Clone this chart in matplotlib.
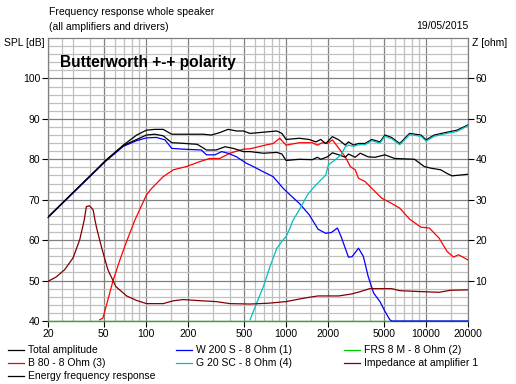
import matplotlib
matplotlib.use("Agg")
import matplotlib.pyplot as plt
from matplotlib.lines import Line2D
from matplotlib.ticker import NullFormatter

plt.rcParams['font.family'] = ['Liberation Sans', 'DejaVu Sans']

# ---------------- data ----------------
total_f = [20, 40, 52, 69, 86, 101, 116, 133, 153, 175, 256, 294, 337, 387, 445, 497, 555, 691, 862,
           937, 1004, 1248, 1467, 1637, 1775, 1927, 2150, 2391, 2659, 2799, 3046, 3303, 3676, 4107,
           4700, 5100, 5686, 6510, 7650, 9234, 10040, 11480, 14170, 16680, 20000]
total_db = [65.7, 75.9, 79.8, 83.5, 86.0, 87.2, 87.4, 87.4, 86.2, 86.2, 86.2, 86.0, 86.6, 87.4, 87.0,
            87.0, 86.4, 86.7, 87.0, 86.4, 84.9, 85.2, 84.9, 84.3, 84.9, 83.9, 85.6, 84.8, 83.5, 84.3,
            83.5, 83.9, 83.9, 84.9, 84.3, 86.0, 85.4, 83.9, 86.4, 86.0, 84.8, 86.0, 86.7, 87.2, 88.5]

energy_f = [20, 40, 52, 69, 86, 101, 116, 133, 153, 175, 233, 271, 318, 368, 421, 497, 555, 691, 862,
            937, 1004, 1248, 1544, 1680, 1775, 1981, 2150, 2391, 2659, 2799, 3130, 3395, 3874, 4340,
            5100, 5980, 8300, 9740, 10860, 12770, 14170, 15380, 20000]
energy_db = [65.7, 75.9, 79.8, 83.4, 84.9, 86.0, 86.2, 85.8, 84.1, 84.0, 83.7, 82.3, 82.3, 83.1, 82.7,
             81.9, 81.9, 81.5, 81.7, 81.3, 79.7, 80.0, 79.9, 80.5, 80.0, 80.6, 81.6, 81.1, 80.5, 81.3,
             80.5, 81.5, 80.6, 80.5, 81.1, 80.2, 80.0, 78.2, 77.8, 77.4, 76.5, 75.9, 76.3]

w200_f = [20, 40, 52, 69, 86, 101, 119, 137, 153, 185, 249, 271, 311, 348, 387, 445, 523, 555, 632, 691,
          812, 958, 1071, 1248, 1467, 1698, 1927, 2118, 2335, 2479, 2799, 2969, 3303, 3576, 3874, 4237,
          4700, 5100, 5530, 5700, 20000]
w200_db = [65.6, 75.8, 79.6, 83.2, 84.6, 85.3, 85.4, 84.8, 82.7, 82.5, 82.3, 81.1, 81.1, 81.9, 81.5,
           80.6, 79.0, 78.6, 77.6, 76.9, 75.7, 72.8, 71.2, 69.1, 66.3, 62.7, 61.7, 61.9, 63.0, 60.9, 55.8,
           55.9, 58.0, 56.0, 51.0, 46.9, 44.8, 42.4, 40.3, 40.0, 40.0]

frs8_f = [20, 20000]
frs8_db = [40.0, 40.0]

b80_f = [46.8, 49.3, 52.4, 58.1, 65.2, 72.9, 83.6, 101, 110, 133, 157, 195, 242, 285, 337, 398, 497,
         555, 712, 812, 903, 1004, 1248, 1544, 1680, 1823, 1981, 2150, 2391, 2659, 2885, 3130, 3303,
         3676, 4340, 4826, 5686, 6510, 7650, 9234, 10580, 12430, 14170, 15770, 17120, 20000]
b80_db = [40.3, 40.7, 44.0, 49.8, 55.1, 59.7, 65.0, 71.2, 72.8, 75.7, 77.4, 78.2, 79.4, 80.2, 80.2,
          81.5, 82.5, 82.6, 83.5, 83.9, 85.2, 83.5, 84.1, 84.1, 83.5, 84.1, 83.9, 84.8, 82.7, 80.6,
          78.2, 77.4, 75.3, 74.5, 72.0, 70.4, 69.1, 67.9, 65.2, 63.2, 63.0, 60.5, 57.2, 55.8, 56.4, 55.1]

g20_f = [555, 618, 691, 771, 862, 958, 1004, 1071, 1128, 1248, 1427, 1592, 1927, 2011, 2236, 2479,
         2659, 2799, 3046, 3303, 3676, 4107, 4700, 5100, 5686, 6510, 7650, 9234, 10040, 11480, 14170,
         16680, 20000]
g20_db = [40.3, 44.4, 48.5, 53.5, 58.0, 60.1, 60.9, 63.0, 65.0, 67.5, 71.2, 73.2, 76.1, 78.6, 79.8,
          81.1, 83.1, 83.5, 83.2, 83.6, 83.6, 84.6, 84.0, 85.7, 85.1, 83.6, 86.1, 85.7, 84.5, 85.7,
          86.4, 86.9, 88.3]

imp_f = [20, 22.9, 26.3, 30.2, 33.7, 36.3, 37.6, 39.6, 42, 43.3, 44.5, 48.1, 53.5, 61.1, 72.9, 85.6,
         101, 133, 157, 185, 249, 318, 398, 555, 750, 1004, 1371, 1698, 2391, 2961, 3427, 3965, 4826,
         5714, 6510, 8830, 12430, 14960, 20000]
imp_ohm = [9.8, 10.9, 12.7, 15.6, 20.1, 25.0, 28.3, 28.5, 27.5, 25.0, 23.0, 18.4, 12.7, 8.5, 6.2, 5.1,
           4.3, 4.3, 5.0, 5.3, 5.0, 4.8, 4.3, 4.2, 4.4, 4.8, 5.7, 6.2, 6.2, 6.7, 7.3, 8.0, 8.0, 8.0,
           7.5, 7.3, 7.1, 7.6, 7.7]

x_ticks = [20, 50, 100, 200, 500, 1000, 2000, 5000, 10000, 20000]
x_minor = [25, 30, 40, 60, 70, 80, 90, 150, 300, 400, 600, 700, 800, 900, 1500, 3000, 4000,
           6000, 7000, 8000, 9000, 15000]
spl_ticks = [40, 50, 60, 70, 80, 90, 100]
z_ticks = [10, 20, 30, 40, 50, 60]

legend_labels = ["Total amplitude", "B 80 - 8 Ohm (3)", "Energy frequency response",
                 "W 200 S - 8 Ohm (1)", "G 20 SC - 8 Ohm (4)",
                 "FRS 8 M - 8 Ohm (2)", "Impedance at amplifier 1"]

# ---------------- figure ----------------
W, H = 516, 384
fig = plt.figure(figsize=(W / 100, H / 100), dpi=100)
L, R, T, B = 48, 468, 38, 321
ax = fig.add_axes([L / W, 1 - B / H, (R - L) / W, (B - T) / H])

FS = 7.5
c_black = '#000000'
c_red = '#FF0000'
c_blue = '#0000FF'
c_cyan = '#00C0C0'
c_green = '#00CC00'
c_maroon = '#800000'
lw = 0.9

ax.set_xscale('log')
ax.set_xlim(20, 20000)
ax.set_ylim(40, 110)
ax.set_xticks(x_ticks)
ax.set_xticklabels([str(t) for t in x_ticks], fontsize=FS)
ax.set_xticks(x_minor, minor=True)
ax.xaxis.set_minor_formatter(NullFormatter())
ax.set_yticks(spl_ticks)
ax.set_yticklabels([str(t) for t in spl_ticks], fontsize=FS)
ax.set_yticks(range(42, 110, 2), minor=True)
ax.yaxis.set_minor_formatter(NullFormatter())
ax.tick_params(which='minor', length=0)
ax.tick_params(which='major', length=4, width=0.8, color='black', pad=1.5)
ax.grid(which='minor', color='#C0C0C0', linewidth=0.9)
ax.grid(which='major', color='#808080', linewidth=0.9)
ax.set_axisbelow(True)
for s in ax.spines.values():
    s.set_color('#808080')
    s.set_linewidth(0.9)

ax.plot(frs8_f, frs8_db, color=c_green, lw=lw, clip_on=False, zorder=3)
ax.plot(b80_f, b80_db, color=c_red, lw=lw, zorder=3)
ax.plot(w200_f, w200_db, color=c_blue, lw=lw, clip_on=False, zorder=4)
ax.plot(energy_f, energy_db, color=c_black, lw=lw, zorder=5)
ax.plot(total_f, total_db, color=c_black, lw=lw, zorder=5)
ax.plot(g20_f, g20_db, color=c_cyan, lw=lw, zorder=6)

ax2 = ax.twinx()
ax2.set_ylim(0, 70)
ax2.set_yticks(z_ticks)
ax2.set_yticklabels([str(t) for t in z_ticks], fontsize=FS)
ax2.tick_params(which='major', length=4, width=0.8, color='black', pad=1.5)
ax2.tick_params(which='minor', length=0)
ax2.yaxis.set_minor_formatter(NullFormatter())
for s in ax2.spines.values():
    s.set_visible(False)
ax2.plot(imp_f, imp_ohm, color=c_maroon, lw=lw)

# ---------------- texts ----------------
def fy(y):
    return 1 - y / H

fig.text(49 / W, fy(12), "Frequency response whole speaker", fontsize=FS, va='center', ha='left')
fig.text(49 / W, fy(27), "(all amplifiers and drivers)", fontsize=FS, va='center', ha='left')
fig.text(468 / W, fy(26), "19/05/2015", fontsize=FS, va='center', ha='right')
fig.text(45 / W, fy(43), "SPL [dB]", fontsize=FS, va='center', ha='right')
fig.text(472 / W, fy(43), "Z [ohm]", fontsize=FS, va='center', ha='left')
fig.text(60 / W, fy(62), "Butterworth +-+ polarity", fontsize=11.2, fontweight='bold',
         va='center', ha='left')

# ---------------- legend ----------------
legend_colors = [c_black, c_red, c_black, c_blue, c_cyan, c_green, c_maroon]
legend_pos = [(8, 350), (8, 363), (8, 376), (176, 350), (176, 363), (344, 350), (344, 363)]
for lab, col, (x0, y0) in zip(legend_labels, legend_colors, legend_pos):
    fig.add_artist(Line2D([x0 / W, (x0 + 16) / W], [fy(y0), fy(y0)], color=col, lw=lw))
    fig.text((x0 + 20) / W, fy(y0), lab, fontsize=FS, va='center', ha='left')

fig.savefig('out.png', dpi=100)
